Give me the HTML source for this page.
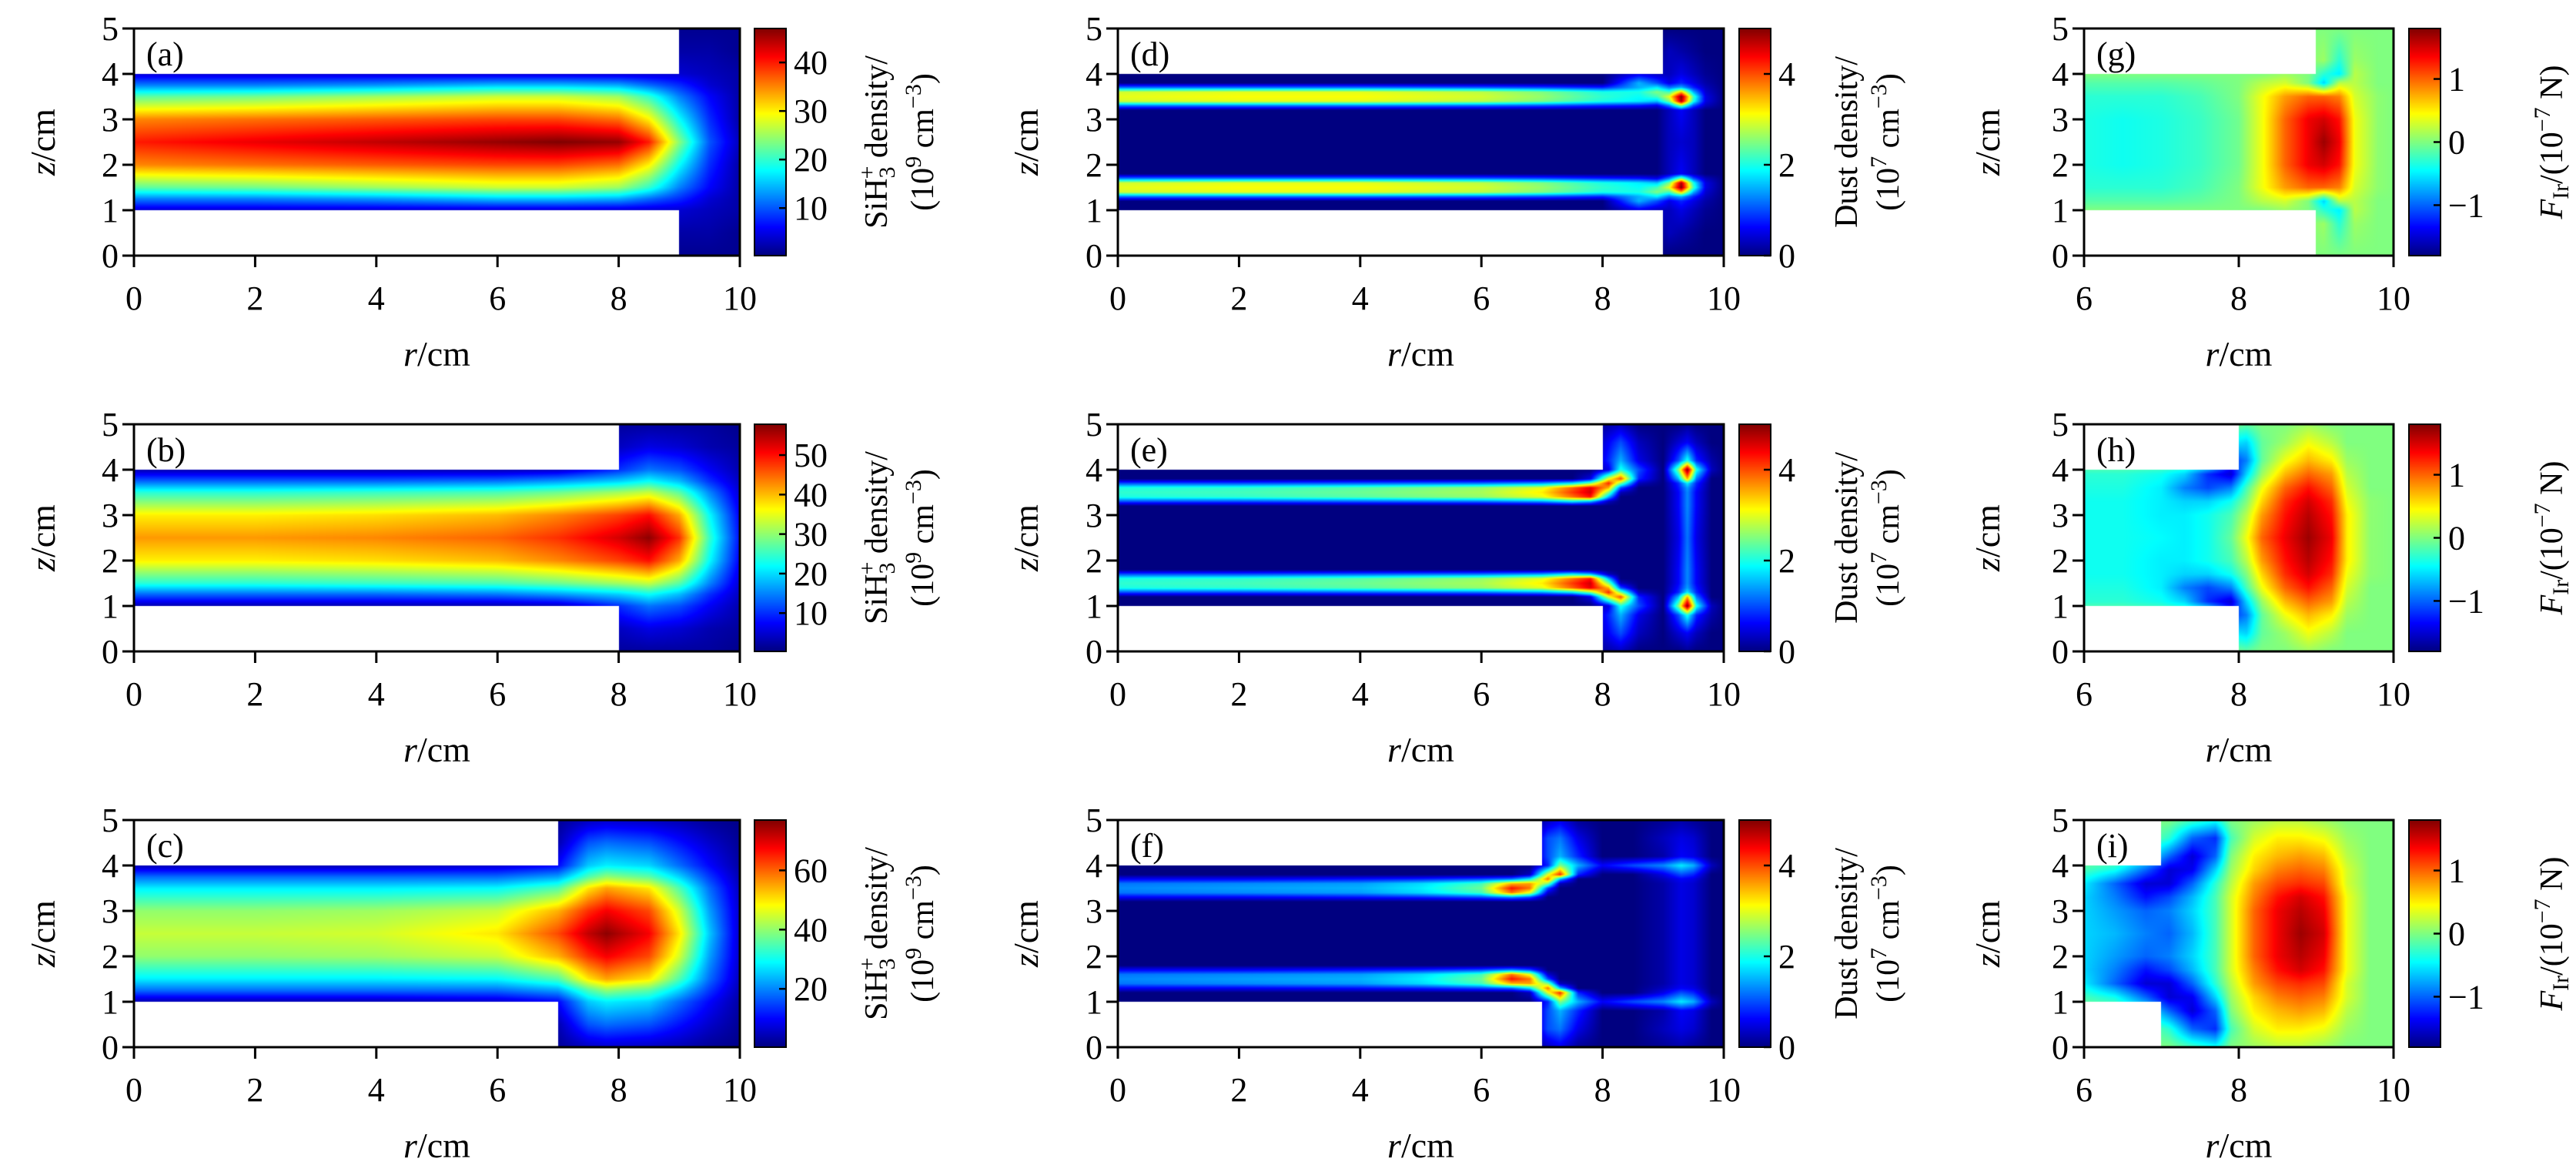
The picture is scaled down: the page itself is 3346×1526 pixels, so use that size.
<!DOCTYPE html>
<html><head><meta charset="utf-8">
<style>
html,body{margin:0;padding:0;background:#fff;}
#root{position:relative;width:3346px;height:1526px;overflow:hidden;background:#fff;}
canvas{position:absolute;display:block;}
svg{position:absolute;left:0;top:0;}
text{font-family:"Liberation Serif",serif;fill:#000;}
</style></head>
<body>
<div id="root">
<svg id="ov" width="3346" height="1526"></svg>
</div>
<script>
// ---------- data arrays ----------
const zTicks=[0,1,2,3,4,5];
const xTicksFull=[0,2,4,6,8,10];
const xTicksZoom=[6,8,10];
// (a) SiH3+ density, wall r=9
const aR=[0,2,4,6,7,8,8.5,9,9.5,10];
const aZ=[2.5,3,3.5,3.75,4,4.5,5];
const aV=[
[40,42,44,46,47,46,40,24,10,3],
[35,36,37,38,38,36,30,18,8,2],
[22,23,25,27,27,25,20,12,6,2],
[12,12,13,15,15,14,11,8,4,2],
[4,4,4,4,4,4,4,4,3,2],
[2,2,2,2,2,2,2,2,2,1],
[1,1,1,1,1,1,1,1,1,1]];
const aCb=[10,20,30,40];
// (b) wall r=8
const bR=[0,2,4,6,7,8,8.5,9,9.5,10];
const bZ=[2.5,3,3.5,3.75,4,4.5,5];
const bV=[
[42,42,43,45,48,53,57,48,25,8],
[37,37,38,40,43,47,50,41,22,7],
[24,24,25,26,28,31,33,27,15,5],
[13,13,13,14,16,19,22,18,10,4],
[3,3,3,3,4,10,14,12,7,3],
[2,2,2,2,2,4,6,5,3,2],
[1,1,1,1,1,2,2,2,2,1]];
const bCb=[10,20,30,40,50];
// (c) wall r=7
const cR=[0,2,4,6,7,7.5,7.8,8.5,9,9.5,10];
const cZ=[2.5,3,3.5,3.75,4,4.5,5];
const cV=[
[44,44,45,50,62,72,76,68,50,25,6],
[40,40,41,44,54,64,68,62,45,22,6],
[28,28,28,29,35,50,55,50,35,18,5],
[18,18,18,18,22,35,40,36,26,14,4],
[4,4,4,6,10,25,28,26,18,10,3],
[2,2,2,2,4,16,18,16,11,6,2],
[1,1,1,1,2,5,6,5,4,2,1]];
const cCb=[20,40,60];
// (d) dust density, wall r=9
const dR=[0,2,4,6,7,8,8.6,8.9,9.1,9.3,9.5,9.7,10];
const dZ=[2.5,3.2,3.3,3.4,3.5,3.6,3.7,3.8,4.0,4.5,5];
const dV=[
[0,0,0,0,0,0,0,0,0.3,0.4,0.3,0,0],
[0,0,0,0,0,0,0,0,0.3,0.6,0.3,0,0],
[1.2,1.2,1.2,1.1,1.0,0.8,0.7,0.5,1.2,2.5,1.0,0.3,0],
[2.9,3.0,3.0,2.8,2.5,2.0,1.8,1.6,2.5,4.8,2.0,0.5,0],
[3.0,3.1,3.1,2.9,2.6,2.1,1.9,2.2,3.0,5.0,2.2,0.5,0],
[2.9,3.0,3.0,2.8,2.5,2.0,2.0,2.5,2.2,3.5,1.5,0.4,0],
[1.2,1.2,1.2,1.1,1.0,0.8,1.5,1.8,1.2,1.5,0.8,0.3,0],
[0,0,0,0,0,0,1.5,1.0,0.5,0.8,0.5,0.2,0],
[0,0,0,0,0,0,0.5,0.3,0.3,0.5,0.3,0.1,0],
[0,0,0,0,0,0,0,0,0.3,0.2,0.1,0,0],
[0,0,0,0,0,0,0,0,0,0,0,0,0]];
const dustCb=[0,2,4];
// (e) wall r=8
const eR=[0,2,4,6,7,7.5,7.8,8.1,8.3,8.6,9.0,9.25,9.4,9.55,9.8,10];
const eZ=[2.5,3.2,3.3,3.4,3.5,3.6,3.7,3.8,4.0,4.2,4.6,5];
const eV=[
[0,0,0,0,0,0,0,0,0,0,0,0.5,1.2,0.5,0,0],
[0,0,0,0,0,0,0,0,0,0,0,0.6,1.3,0.6,0,0],
[1.0,1.0,1.1,1.2,1.4,1.8,1.5,0.3,0,0,0,0.6,1.3,0.6,0,0],
[2.0,2.1,2.3,2.6,3.0,3.8,4.3,1.5,0,0,0,0.6,1.3,0.6,0,0],
[2.1,2.2,2.4,2.7,3.2,4.1,4.6,2.5,0.3,0,0,0.6,1.3,0.6,0,0],
[2.0,2.1,2.3,2.6,3.0,3.9,4.5,3.5,1.0,0,0,0.7,1.4,0.7,0,0],
[1.0,1.0,1.1,1.2,1.4,1.8,2.5,4.2,2.5,0.3,0,0.8,1.8,0.8,0,0],
[0,0,0,0,0,0,0.5,3.0,4.0,0.8,0,1.5,3.5,1.2,0,0],
[0,0,0,0,0,0,0,0.5,2.0,1.0,0,2.5,5.0,2.0,0.3,0],
[0,0,0,0,0,0,0,0.8,1.5,0.5,0,1.0,2.0,0.8,0.2,0],
[0,0,0,0,0,0,0,0.6,1.0,0.3,0,0.4,0.6,0.3,0,0],
[0,0,0,0,0,0,0,0.2,0.3,0,0,0,0.1,0,0,0]];
// (f) wall r=7
const fR=[0,2,4,5,6,6.5,6.8,7.1,7.3,7.6,8,8.5,9,9.3,9.5,9.8,10];
const fZ=[2.5,3.2,3.3,3.4,3.5,3.6,3.7,3.8,4.0,4.2,4.6,5];
const fV=[
[0,0,0,0,0,0,0,0,0,0,0,0,0.2,0.5,0.4,0,0],
[0,0,0,0,0,0,0,0,0,0,0,0,0.2,0.5,0.4,0,0],
[0.6,0.6,0.7,0.8,1.0,1.3,1.0,0,0,0,0,0,0.2,0.5,0.4,0,0],
[1.2,1.3,1.4,1.7,2.2,3.8,3.0,0.4,0,0,0,0,0.2,0.5,0.4,0,0],
[1.3,1.4,1.5,1.8,2.4,4.3,3.8,1.0,0,0,0,0,0.2,0.5,0.4,0,0],
[1.2,1.3,1.4,1.7,2.2,3.5,3.6,2.5,0.3,0,0,0,0.2,0.5,0.4,0,0],
[0.6,0.6,0.7,0.8,1.0,1.2,1.8,3.8,1.5,0,0,0,0.3,0.6,0.5,0,0],
[0,0,0,0,0,0,0.3,3.0,4.2,0.8,0,0,0.5,1.0,0.8,0,0],
[0,0,0,0,0,0,0,0.8,2.5,1.5,0.6,1.0,1.3,1.8,1.5,0.3,0],
[0,0,0,0,0,0,0,1.0,1.5,0.8,0,0,0.2,0.6,0.5,0,0],
[0,0,0,0,0,0,0,1.0,1.2,0.5,0,0,0.3,0.5,0.4,0,0],
[0,0,0,0,0,0,0,0.3,0.5,0.1,0,0,0.1,0.2,0.1,0,0]];
// (g) force F_Ir, wall r=9
const gR=[6,6.5,7,7.5,8,8.3,8.6,8.9,9.1,9.3,9.5,9.8,10];
const gZ=[2.5,3,3.5,3.8,4,4.3,5];
const gV=[
[-0.35,-0.4,-0.35,-0.25,-0.05,0.4,1.0,1.4,1.7,1.4,0.4,0.05,0],
[-0.35,-0.4,-0.35,-0.25,-0.05,0.4,1.0,1.4,1.5,1.3,0.4,0.05,0],
[-0.3,-0.3,-0.3,-0.2,0,0.4,0.8,1.0,1.0,0.9,0.3,0.05,0],
[-0.15,-0.15,-0.15,-0.1,0,0.2,0.3,0,-0.6,0.2,0.2,0,0],
[0,0,0,0,0,0,0.1,0,-0.3,-0.5,0.2,0,0],
[0,0,0,0,0,0,0,0,0.1,-0.3,0.1,0,0],
[0,0,0,0,0,0,0,0,0,0,0,0,0]];
const forceCb=[-1,0,1];
// (h) wall r=8
const hR=[6,6.5,7,7.3,7.6,7.9,8.1,8.3,8.6,8.9,9.2,9.4,9.7,10];
const hZ=[2.5,3,3.3,3.6,3.9,4.2,4.6,5];
const hV=[
[-0.4,-0.4,-0.45,-0.5,-0.4,-0.1,0.4,1.0,1.4,1.7,1.4,0.5,0.05,0],
[-0.4,-0.4,-0.5,-0.5,-0.4,-0.2,0.2,0.8,1.3,1.6,1.3,0.5,0.05,0],
[-0.4,-0.4,-0.5,-0.6,-0.6,-0.4,0,0.6,1.2,1.5,1.2,0.4,0.05,0],
[-0.35,-0.35,-0.5,-0.9,-1.1,-0.9,-0.2,0.4,1.0,1.3,1.0,0.3,0,0],
[-0.3,-0.3,-0.4,-0.6,-1.2,-1.5,-0.6,0.1,0.7,1.0,0.8,0.2,0,0],
[0,0,0,0,0,-1.2,-0.9,-0.1,0.4,0.7,0.5,0.1,0,0],
[0,0,0,0,0,-0.5,-0.6,-0.1,0.1,0.4,0.2,0,0,0],
[0,0,0,0,0,0,-0.1,0,0,0.1,0,0,0,0]];
// (i) wall r=7
const iR=[6,6.4,6.8,7.1,7.4,7.7,7.9,8.2,8.5,8.8,9.1,9.4,9.7,10];
const iZ=[2.5,3,3.3,3.6,3.9,4.2,4.6,5];
const iV=[
[-0.6,-0.7,-0.9,-1.0,-0.7,-0.2,0.3,1.0,1.4,1.7,1.5,0.4,0,0],
[-0.6,-0.8,-1.0,-0.9,-0.6,-0.2,0.3,1.0,1.4,1.6,1.4,0.4,0,0],
[-0.6,-0.9,-1.3,-1.1,-0.7,-0.2,0.3,0.9,1.3,1.5,1.3,0.4,0,0],
[-0.5,-1.0,-1.5,-1.5,-1.0,-0.3,0.2,0.8,1.1,1.2,1.1,0.3,0,0],
[-0.2,-0.4,-1.0,-1.5,-1.4,-0.6,0.1,0.6,0.9,1.0,0.9,0.3,0,0],
[0,0,-0.4,-1.0,-1.5,-1.0,0,0.5,0.7,0.8,0.7,0.2,0,0],
[0,0,0,-0.3,-1.0,-1.2,-0.2,0.3,0.5,0.5,0.4,0.1,0,0],
[0,0,0,0,-0.2,-0.4,0,0.1,0.2,0.2,0.1,0,0,0]];

// ---------- layout ----------
const colLeft=[174,1452,2707], colW=[787,787,402], colDom=[[0,10],[0,10],[6,10]];
const cbLeft=[980,2259,3129], cbW=41;
const rowTop=[37,551,1065], rowH=295;
const panels=[
 {id:'a',c:0,r:0,R:aR,Z:aZ,V:aV,wall:9,vmin:0.2,vmax:47,cb:aCb},
 {id:'b',c:0,r:1,R:bR,Z:bZ,V:bV,wall:8,vmin:0.3,vmax:57.8,cb:bCb},
 {id:'c',c:0,r:2,R:cR,Z:cZ,V:cV,wall:7,vmin:0.3,vmax:77,cb:cCb},
 {id:'d',c:1,r:0,R:dR,Z:dZ,V:dV,wall:9,vmin:0,vmax:5,cb:dustCb},
 {id:'e',c:1,r:1,R:eR,Z:eZ,V:eV,wall:8,vmin:0,vmax:5,cb:dustCb},
 {id:'f',c:1,r:2,R:fR,Z:fZ,V:fV,wall:7,vmin:0,vmax:5,cb:dustCb},
 {id:'g',c:2,r:0,R:gR,Z:gZ,V:gV,wall:9,vmin:-1.8,vmax:1.8,cb:forceCb},
 {id:'h',c:2,r:1,R:hR,Z:hZ,V:hV,wall:8,vmin:-1.8,vmax:1.8,cb:forceCb},
 {id:'i',c:2,r:2,R:iR,Z:iZ,V:iV,wall:7,vmin:-1.8,vmax:1.8,cb:forceCb}];

function jet(x){x=Math.max(0,Math.min(1,x));
 const cl=v=>Math.max(0,Math.min(1,v));
 return [cl(1.5-Math.abs(4*x-3))*255,cl(1.5-Math.abs(4*x-2))*255,cl(1.5-Math.abs(4*x-1))*255];}
function loc(arr,x){if(x<=arr[0])return[0,0];const n=arr.length;if(x>=arr[n-1])return[n-2,1];
 let i=0;while(arr[i+1]<x)i++;return[i,(x-arr[i])/(arr[i+1]-arr[i])];}
function sample(p,r,z){const zh=Math.abs(z-2.5)+2.5;const[i,t]=loc(p.R,r);const[j,u]=loc(p.Z,zh);
 const V=p.V;return (1-u)*((1-t)*V[j][i]+t*V[j][i+1])+u*((1-t)*V[j+1][i]+t*V[j+1][i+1]);}

const root=document.getElementById('root');
const ov=document.getElementById('ov');
const NS='http://www.w3.org/2000/svg';
function mk(tag,attrs,parent){const e=document.createElementNS(NS,tag);for(const k in attrs)e.setAttribute(k,attrs[k]);(parent||ov).appendChild(e);return e;}

panels.forEach(p=>{
 const L=colLeft[p.c],W=colW[p.c],T=rowTop[p.r],H=rowH,dom=colDom[p.c];
 const xs=v=>L+(v-dom[0])/(dom[1]-dom[0])*W;
 const ys=v=>T+H-(v/5)*H;
 const cv=document.createElement('canvas');cv.width=W;cv.height=H;
 cv.style.left=L+'px';cv.style.top=T+'px';
 
 
 root.insertBefore(cv,ov);
 const ctx=cv.getContext('2d');const img=ctx.createImageData(W,H);
 for(let py=0;py<H;py++){const z=5-(py+0.5)/H*5;
  for(let px=0;px<W;px++){const r=dom[0]+(px+0.5)/W*(dom[1]-dom[0]);const k=(py*W+px)*4;
   let col;if(r<p.wall&&(z>4||z<1))col=[255,255,255];
   else col=jet((sample(p,r,z)-p.vmin)/(p.vmax-p.vmin));
   img.data[k]=col[0];img.data[k+1]=col[1];img.data[k+2]=col[2];img.data[k+3]=255;}}
 ctx.putImageData(img,0,0);
 const cb=document.createElement('canvas');cb.width=cbW;cb.height=H;
 cb.style.left=cbLeft[p.c]+'px';cb.style.top=T+'px';
 
 
 root.insertBefore(cb,ov);
 const cx=cb.getContext('2d');
 for(let py=0;py<H;py++){const c=jet(1-(py+0.5)/H);cx.fillStyle='rgb('+c.map(Math.round).join(',')+')';cx.fillRect(0,py,cbW,1);}
 const g=mk('g',{});
 
 
 const fr=mk('rect',{x:L,y:T,width:W,height:H,fill:'none',stroke:'#000','stroke-width':3},g);
 
 
 const cbf=mk('rect',{x:cbLeft[p.c],y:T,width:cbW,height:H,fill:'none',stroke:'#000','stroke-width':2},g);
 
 
 const xt=p.c==2?xTicksZoom:xTicksFull;
 xt.forEach(v=>{mk('line',{x1:xs(v),x2:xs(v),y1:T+H,y2:T+H+15,stroke:'#000','stroke-width':3},g);
  const t=mk('text',{x:xs(v),y:T+H+70,'font-size':44,'text-anchor':'middle'},g);t.textContent=v;
  
  });
 zTicks.forEach(v=>{mk('line',{x1:L-15,x2:L,y1:ys(v),y2:ys(v),stroke:'#000','stroke-width':3},g);
  const t=mk('text',{x:L-20,y:ys(v)+15,'font-size':44,'text-anchor':'end'},g);t.textContent=v;
  
  });
 p.cb.forEach(v=>{const y=T+H-(v-p.vmin)/(p.vmax-p.vmin)*H;
  mk('line',{x1:cbLeft[p.c]+cbW-9,x2:cbLeft[p.c]+cbW,y1:y,y2:y,stroke:'#000','stroke-width':2.5},g);
  const t=mk('text',{x:cbLeft[p.c]+cbW+10,y:y+15,'font-size':44},g);t.textContent=(v<0?'\u2212'+(-v):v);
  
  });
 const xl=mk('text',{x:L+W/2,y:T+H+143,'font-size':46,'text-anchor':'middle'},g);
 xl.innerHTML='<tspan font-style="italic">r</tspan>/cm';
 
 
 const ylx=[56,1333,2582][p.c];
 const yl=mk('text',{x:0,y:0,'font-size':46,'text-anchor':'middle',transform:'translate('+(ylx+15)+','+(T+H/2)+') rotate(-90)'},g);
 yl.innerHTML='<tspan font-style="italic">z</tspan>/cm';
 
 
 const pl=mk('text',{x:L+16,y:T+48,'font-size':44},g);pl.textContent='('+p.id+')';
 
 
 const cy=T+H/2;
 if(p.c==0){
  const t1=mk('text',{x:0,y:0,'font-size':42,'text-anchor':'middle',transform:'translate(1152,'+cy+') rotate(-90)'},g);
  t1.innerHTML='SiH<tspan font-size="30" dy="10">3</tspan><tspan font-size="30" dx="-16" dy="-26">+</tspan><tspan dy="16"> density/</tspan>';
  
  
  const t2=mk('text',{x:0,y:0,'font-size':42,'text-anchor':'middle',transform:'translate(1212,'+cy+') rotate(-90)'},g);
  t2.innerHTML='(10<tspan font-size="30" dy="-16">9</tspan><tspan dy="16"> cm</tspan><tspan font-size="30" dy="-16">\u22123</tspan><tspan dy="16">)</tspan>';
  
  
 } else if(p.c==1){
  const t1=mk('text',{x:0,y:0,'font-size':42,'text-anchor':'middle',transform:'translate(2412,'+cy+') rotate(-90)'},g);
  t1.textContent='Dust density/';
  
  
  const t2=mk('text',{x:0,y:0,'font-size':42,'text-anchor':'middle',transform:'translate(2466,'+cy+') rotate(-90)'},g);
  t2.innerHTML='(10<tspan font-size="30" dy="-16">7</tspan><tspan dy="16"> cm</tspan><tspan font-size="30" dy="-16">\u22123</tspan><tspan dy="16">)</tspan>';
  
  
 } else {
  const t1=mk('text',{x:0,y:0,'font-size':42,'text-anchor':'middle',transform:'translate(3328,'+cy+') rotate(-90)'},g);
  t1.innerHTML='<tspan font-style="italic">F</tspan><tspan font-size="30" dy="8">Ir</tspan><tspan dy="-8">/(10</tspan><tspan font-size="30" dy="-16">\u22127</tspan><tspan dy="16"> N)</tspan>';
  
  
 }
});
</script>
</body></html>
